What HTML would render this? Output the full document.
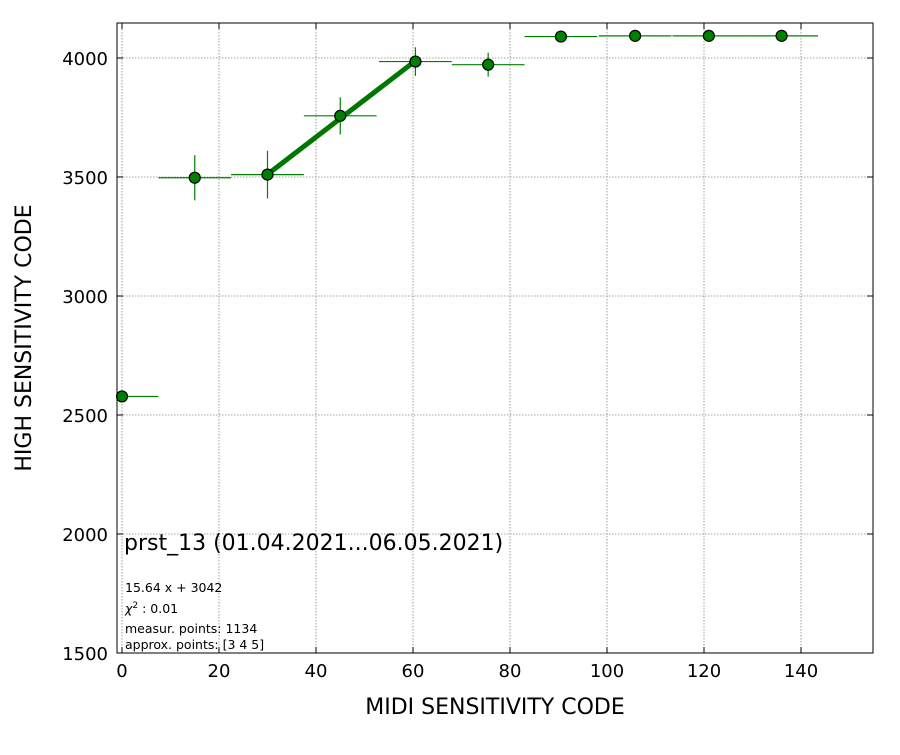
<!DOCTYPE html>
<html><head><meta charset="utf-8"><style>
body{margin:0;background:#fff}
svg text{font-family:"DejaVu Sans","Liberation Sans",sans-serif}
</style></head><body>
<svg id="chart" width="900" height="750">
<rect width="900" height="750" fill="#fff"/>
<g id="grid"></g>
<g id="marks"></g>
<rect x="117" y="23" width="756" height="630" fill="none" stroke="#000" stroke-width="1"/>
<g id="ticks"></g>
<text x="495" y="714" font-size="22" text-anchor="middle">MIDI SENSITIVITY CODE</text>
<text transform="translate(31,338) rotate(-90)" font-size="22" text-anchor="middle">HIGH SENSITIVITY CODE</text>
<text x="124" y="550" font-size="22">prst_13 (01.04.2021...06.05.2021)</text>
<text x="125" y="592" font-size="12.5">15.64 x + 3042</text>
<text x="125" y="613" font-size="12.5"><tspan font-style="italic">χ</tspan><tspan dy="-5" font-size="9">2</tspan><tspan dy="5"> : 0.01</tspan></text>
<text x="125" y="633" font-size="12.5">measur. points: 1134</text>
<text x="125" y="649" font-size="12.5">approx. points: [3 4 5]</text>
</svg>
<script>
const xs=[0,15,30,45,60.5,75.5,90.5,105.8,121,136];
const ys=[2578,3497,3510,3757,3985,3972,4090,4093,4093,4093];
const yerr=[0,95,100,78,60,50,5,5,5,5];
const xerr=[7.5,7.5,7.5,7.5,7.5,7.5,7.5,7.5,7.5,7.5];
const xTicks=[0,20,40,60,80,100,120,140];
const yTicks=[1500,2000,2500,3000,3500,4000];
const fitRange=[30,60.5];
const fitSlope=15.64, fitIntercept=3042;
const X=v=>122+v*4.85, Y=v=>653-(v-1500)*0.238;
const NS="http://www.w3.org/2000/svg";
function mk(p,t,a){const e=document.createElementNS(NS,t);for(const k in a)e.setAttribute(k,a[k]);p.appendChild(e);return e;}
const grid=document.getElementById('grid'),ticks=document.getElementById('ticks'),marks=document.getElementById('marks');
xTicks.forEach(v=>{
 const g=mk(grid,'line',{x1:X(v),x2:X(v),y1:23,y2:653,stroke:'#888','stroke-dasharray':'1.5,1.5','stroke-width':0.8});
 
 
 mk(ticks,'line',{x1:X(v),x2:X(v),y1:653,y2:647,stroke:'#000'});
 mk(ticks,'line',{x1:X(v),x2:X(v),y1:23,y2:29,stroke:'#000'});
 const t=mk(ticks,'text',{x:X(v),y:677,'font-size':18,'text-anchor':'middle'});t.textContent=v;
 
 
});
yTicks.forEach(v=>{
 const g=mk(grid,'line',{x1:117,x2:873,y1:Y(v),y2:Y(v),stroke:'#888','stroke-dasharray':'1.5,1.5','stroke-width':0.8});
 
 
 mk(ticks,'line',{x1:117,x2:123,y1:Y(v),y2:Y(v),stroke:'#000'});
 mk(ticks,'line',{x1:867,x2:873,y1:Y(v),y2:Y(v),stroke:'#000'});
 const t=mk(ticks,'text',{x:108,y:Y(v)+7,'font-size':18,'text-anchor':'end'});t.textContent=v;
 
 
});
const fit=mk(marks,'line',{x1:X(fitRange[0]),y1:Y(fitSlope*fitRange[0]+fitIntercept),x2:X(fitRange[1]),y2:Y(fitSlope*fitRange[1]+fitIntercept),stroke:'#007800','stroke-width':5});


xs.forEach((x,i)=>{
 const g=mk(marks,'g',{});
 
 
 mk(g,'line',{x1:Math.max(117,X(x-xerr[i])),x2:X(x+xerr[i]),y1:Y(ys[i]),y2:Y(ys[i]),stroke:'#008000','stroke-width':1.2});
 mk(g,'line',{x1:X(x),x2:X(x),y1:Y(ys[i]-yerr[i]),y2:Y(ys[i]+yerr[i]),stroke:'#008000','stroke-width':1.2});
 mk(g,'circle',{cx:X(x),cy:Y(ys[i]),r:5.5,fill:'#008000',stroke:'#000','stroke-width':1.2});
});
</script>
</body></html>
